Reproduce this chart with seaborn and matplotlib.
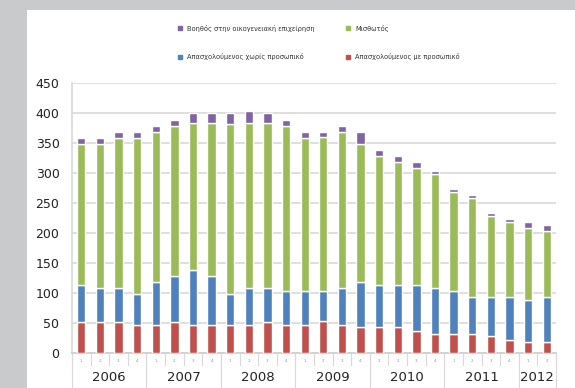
import matplotlib
matplotlib.use("Agg")
import matplotlib.pyplot as plt
import matplotlib.transforms as mtransforms
from matplotlib.lines import Line2D
from matplotlib.patches import Rectangle
import seaborn as sns
import numpy as np

years = ["2006", "2007", "2008", "2009", "2010", "2011", "2012"]
quarters_per_year = [4, 4, 4, 4, 4, 4, 2]
quarter_labels = ["1", "2", "3", "4"] * 6 + ["1", "2"]
categories = [f"{y} Q{q}" for y, n in zip(years, quarters_per_year) for q in range(1, n + 1)]

employer = [52, 52, 52, 47, 47, 52, 47, 47, 47, 47, 52, 47, 47,
            53, 46, 43, 43, 43, 36, 32, 32, 32, 28, 22, 18, 18]
self_employed = [61, 56, 56, 51, 71, 77, 92, 82, 51, 61, 56, 57, 57,
                 51, 62, 75, 71, 71, 78, 76, 72, 61, 65, 71, 70, 75]
employee = [236, 241, 250, 260, 250, 250, 244, 254, 283, 275, 275, 275, 255,
            256, 261, 231, 215, 205, 195, 190, 164, 166, 136, 126, 120, 111]
family_helper = [9, 9, 10, 10, 11, 10, 17, 17, 19, 20, 17, 10, 9,
                 8, 10, 19, 10, 10, 9, 6, 6, 4, 4, 5, 10, 10]

series_names = ["Απασχολούμενος με προσωπικό", "Απασχολούμενος χωρίς προσωπικό",
                "Μισθωτός", "Βοηθός στην οικογενειακή επιχείρηση"]
colors = ["#c0504d", "#4f81bd", "#9bbb59", "#8064a2"]
yticks = [0, 50, 100, 150, 200, 250, 300, 350, 400, 450]

sns.set_theme(style="white")
plt.rcParams["font.family"] = ["DejaVu Sans"]

fig = plt.figure(figsize=(5.75, 3.88), dpi=100)
fig.patch.set_facecolor("#c9cacc")
fig.add_artist(Rectangle((27 / 575, 0), 1 - 27 / 575, 1 - 10 / 388,
                         transform=fig.transFigure, facecolor="white",
                         edgecolor="none", zorder=0))

ax = fig.add_axes([72 / 575, 1 - 353 / 388, (556 - 72) / 575, 270 / 388])
ax.set_facecolor("none")

bottom = np.zeros(len(categories))
handles = []
for vals, name, col in zip([employer, self_employed, employee, family_helper], series_names, colors):
    sns.barplot(x=categories, y=vals, bottom=bottom, color=col, width=0.45,
                ax=ax, saturation=1, zorder=3)
    bottom = bottom + np.array(vals)
    handles.append(Line2D([], [], marker="s", linestyle="none", markersize=3.5,
                          markerfacecolor=col, markeredgecolor=col, label=name))

ax.set_ylim(0, 450)
ax.set_xlim(-0.5, len(categories) - 0.5)
ax.set_yticks(yticks)
ax.set_yticklabels([str(v) for v in yticks], fontsize=9, color="#222222")
ax.yaxis.grid(True, color="#d9d9d9", linewidth=1.2, zorder=0)
ax.set_axisbelow(True)
ax.tick_params(axis="y", length=0, pad=9)
ax.set_xticks(range(len(categories)))
ax.set_xticklabels(quarter_labels, fontsize=3, color="#999999")
ax.tick_params(axis="x", length=0, pad=4)
ax.set_xlabel("")
ax.set_ylabel("")
for s in ["top", "right"]:
    ax.spines[s].set_visible(False)
ax.spines["left"].set_color("#d9d9d9")
ax.spines["bottom"].set_color("#d0d0d0")

trans = mtransforms.blended_transform_factory(ax.transData, ax.transAxes)
for i in range(len(categories) + 1):
    ax.plot([i - 0.5, i - 0.5], [0, -0.045], transform=trans, color="#d9d9d9",
            linewidth=0.8, clip_on=False)
start = 0
for y, n in zip(years, quarters_per_year):
    ax.plot([start - 0.5, start - 0.5], [0, -0.14], transform=trans, color="#d9d9d9",
            linewidth=0.8, clip_on=False)
    ax.text(start + (n - 1) / 2, -0.092, y, transform=trans, ha="center", va="center",
            fontsize=9.5, color="#222222")
    start += n
ax.plot([start - 0.5, start - 0.5], [0, -0.14], transform=trans, color="#d9d9d9",
        linewidth=0.8, clip_on=False)

order = [handles[3], handles[1], handles[2], handles[0]]
fig.legend(handles=order, labels=[h.get_label() for h in order], ncol=2,
           loc="center", bbox_to_anchor=(318 / 575, 1 - 42.5 / 388),
           fontsize=4.8, frameon=False, labelspacing=3.3, columnspacing=4.5,
           handletextpad=0.6, handlelength=1.0, labelcolor="#333333")

fig.savefig("out.png", dpi=100, facecolor=fig.get_facecolor())
